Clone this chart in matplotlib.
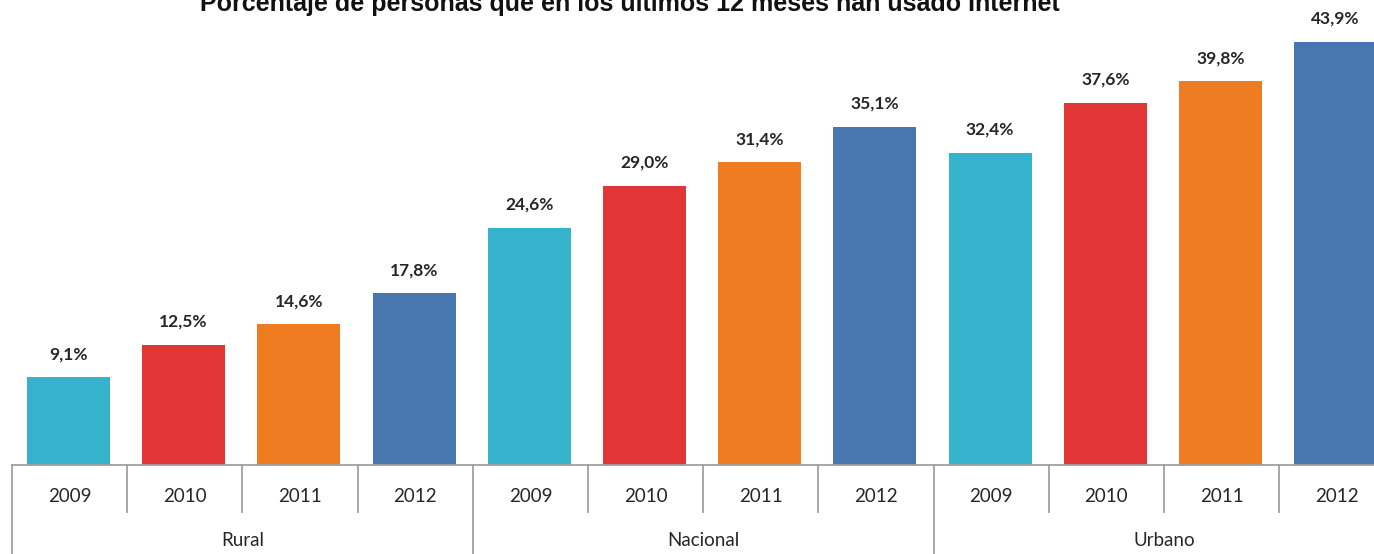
import matplotlib
matplotlib.use("Agg")
import matplotlib.pyplot as plt
import matplotlib.transforms as mtransforms

# Share of people who used the Internet in the last 12 months, by area and year
groups = ["Rural", "Nacional", "Urbano"]
years = ["2009", "2010", "2011", "2012"]
values = {
    "Rural": [9.1, 12.5, 14.6, 17.8],
    "Nacional": [24.6, 29.0, 31.4, 35.1],
    "Urbano": [32.4, 37.6, 39.8, 43.9],
}
year_colors = ["#35B3CC", "#E23535", "#F07C22", "#4876AE"]
title = "Porcentaje de personas que en los últimos 12 meses han usado Internet"

W, H = 1374, 554
fig = plt.figure(figsize=(W / 100, H / 100), dpi=100)

left_px, base_px = 12, 465
cell_px = 115.2
ax = fig.add_axes([left_px / W, (H - base_px) / H, (W - left_px) / W, base_px / H])
ax.set_xlim(0, (W - left_px) / cell_px)
ax.set_ylim(0, base_px / 9.636)
ax.axis("off")

font = ["Lato", "DejaVu Sans"]
text_color = "#262626"
line_color = "#A0A0A0"

trans = mtransforms.blended_transform_factory(ax.transData, ax.transAxes)
y_tick_end = -47 / base_px
y_bottom = -92 / base_px

i = 0
for g_idx, g in enumerate(groups):
    start = i
    for y_idx, yr in enumerate(years):
        v = values[g][y_idx]
        x = i + 0.49
        ax.bar(x, v, width=0.72, color=year_colors[y_idx], zorder=2, clip_on=False)
        ax.annotate(f"{v:.1f}".replace(".", ",") + "%", (x, v),
                    xytext=(0, 11), textcoords="offset points",
                    ha="center", va="bottom", fontsize=12.5, fontweight="bold",
                    family=font, color=text_color, annotation_clip=False)
        ax.text(i + 0.5, -32 / base_px, yr, transform=trans, ha="center", va="center",
                fontsize=13.5, family=font, color=text_color)
        if y_idx > 0:
            ax.plot([i, i], [0, y_tick_end], transform=trans, color=line_color,
                    lw=1.3, clip_on=False)
        i += 1
    ax.plot([start, start], [0, y_bottom], transform=trans, color=line_color,
            lw=1.3, clip_on=False)
    ax.text(start + 2, -76 / base_px, g, transform=trans, ha="center", va="center",
            fontsize=13.5, family=font, color=text_color)

# baseline of the category table
ax.plot([0, 12.5], [0, 0], transform=trans, color=line_color, lw=1.3, clip_on=False, zorder=3)

fig.text(630 / W, 1 - 11 / H, title, ha="center", va="baseline",
         fontsize=18, fontweight="bold", family=["Liberation Sans", "DejaVu Sans"],
         color="#111111")

fig.savefig("out.png", dpi=100)
